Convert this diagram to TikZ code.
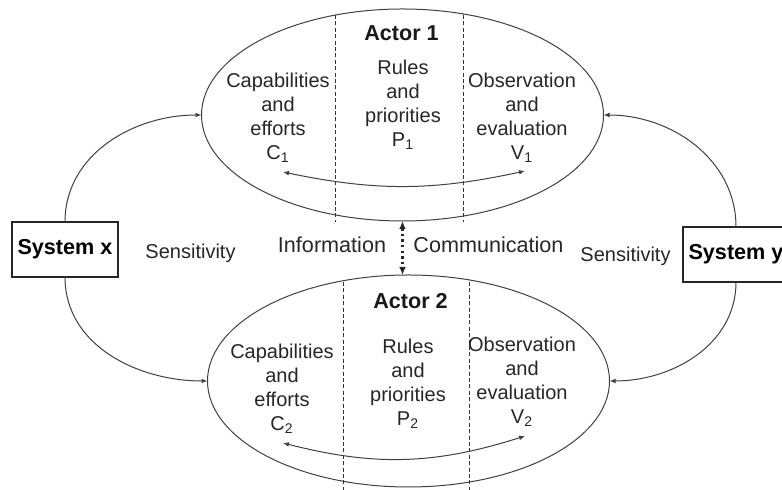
\documentclass[tikz,border=0pt]{standalone}
\usepackage{fontspec}
\setmainfont{Liberation Sans}
\usetikzlibrary{arrows.meta,shapes.geometric}

\begin{document}
\begin{tikzpicture}[x=0.5pt,y=0.5pt,
        actor/.style={ellipse, draw=black!75, line width=0.5pt, minimum width=201pt, minimum height=106pt, inner sep=0pt, outer sep=0pt},
        sysbox/.style={draw=black!85, line width=0.6pt, minimum width=53pt, minimum height=27.5pt, inner sep=0pt, outer sep=0pt, font=\fontsize{10.8}{13}\selectfont\bfseries},
        celltext/.style={align=center, text=black!85, font=\fontsize{10}{12}\selectfont},
        title/.style={text=black!90, font=\fontsize{10.8}{13}\selectfont\bfseries},
        link/.style={draw=black!75, line width=0.5pt, -{Latex[length=3pt,width=2.4pt]}},
        loop/.style={draw=black!75, line width=0.5pt, {Latex[length=3pt,width=2.4pt]}-{Latex[length=3pt,width=2.4pt]}},
        divider/.style={draw=black!80, line width=0.5pt, dash pattern=on 2pt off 1.2pt}]
        \useasboundingbox (0,0) rectangle (782,490);
        \clip (0,0) rectangle (782,490);
    %ellipses
        \node[actor] (actor1) at (402.5,375) {};
        \node[actor] (actor2) at (408.5,109) {};
    %systems
        \node[sysbox] (sysx) at (65,240.5) {System x};
        \node[sysbox] (sysy) at (736,235.5) {System y};
    % dashed lines
        \draw[divider] (335,475) -- (335,268);
        \draw[divider] (463,475) -- (463,268);
        \draw[divider] (343,208) -- (343,0);
        \draw[divider] (469,208) -- (469,0);
    %nodes
        \node[title] (t1) at (401.5,457) {Actor 1};
            \node[celltext] (cap1) at (278,372) {Capabilities\\and\\efforts\\C\textsubscript{1}};
            \node[celltext] (rul1) at (403,385) {Rules\\and\\priorities\\P\textsubscript{1}};
            \node[celltext] (obs1) at (522,372) {Observation\\and\\evaluation\\V\textsubscript{1}};
        \node[title] (t2) at (410.5,189) {Actor 2};
            \node[celltext] (cap2) at (282,101) {Capabilities\\and\\efforts\\C\textsubscript{2}};
            \node[celltext] (rul2) at (408,106) {Rules\\and\\priorities\\P\textsubscript{2}};
            \node[celltext] (obs2) at (522,108) {Observation\\and\\evaluation\\V\textsubscript{2}};
        \node[celltext] (sensx) at (190.5,237) {Sensitivity};
        \node[celltext] (sensy) at (625.5,234) {Sensitivity};
        \node[celltext, font=\fontsize{10.8}{13}\selectfont] (info) at (332,245) {Information};
        \node[celltext, font=\fontsize{10.8}{13}\selectfont] (comm) at (488.5,245) {Communication};
    % loops inside the actors
        \coordinate (c1) at (283,318);
        \coordinate (v1) at (525,319);
        \coordinate (c2) at (283,47);
        \coordinate (v2) at (525,54);
        \draw[loop] (c1) to[bend right=12] (v1);
        \draw[loop] (c2) to[bend right=16] (v2);
    % sensitivity arcs
        \draw[link] (sysx.north) to[out=90,in=180] (actor1.west);
        \draw[link] (sysx.south) to[out=-90,in=180] (actor2.west);
        \draw[link] (sysy.north) to[out=90,in=0] (actor1.east);
        \draw[link] (sysy.south) to[out=-90,in=0] (actor2.east);
    % communication between actors
        \draw[black!85, line width=1.2pt, dash pattern=on 1.2pt off 1.6pt, {Latex[length=4pt,width=3.4pt]}-{Latex[length=4pt,width=3.4pt]}]
            (actor1.south) -- (actor1.south |- actor2.north);
    \end{tikzpicture}
\end{document}
